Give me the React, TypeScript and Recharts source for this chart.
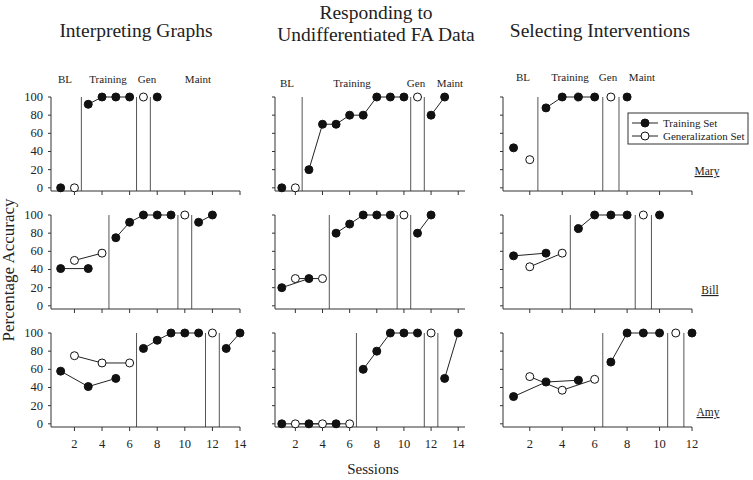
import React from 'react';
import { LineChart, Line, XAxis, YAxis, ReferenceLine } from 'recharts';

const FONT = '"Liberation Serif", "DejaVu Serif", "Times New Roman", serif';

// ---- Interpreting Graphs ----
const graphsMaryTraining = [0, null, 92, 100, 100, 100, null, 100];
const graphsMaryGeneral = [null, 0, null, null, null, null, 100, null];
const graphsMaryPhases = [2.5, 6.5, 7.5];
const graphsBillTraining = [41, null, 41, null, 75, 92, 100, 100, 100, null, 92, 100];
const graphsBillGeneral = [null, 50, null, 58, null, null, null, null, null, 100, null, null];
const graphsBillPhases = [4.5, 9.5, 10.5];
const graphsAmyTraining = [58, null, 41, null, 50, null, 83, 92, 100, 100, 100, null, 83, 100];
const graphsAmyGeneral = [null, 75, null, 67, null, 67, null, null, null, null, null, 100, null, null];
const graphsAmyPhases = [6.5, 11.5, 12.5];

// ---- Responding to Undifferentiated FA Data ----
const faMaryTraining = [0, null, 20, 70, 70, 80, 80, 100, 100, 100, null, 80, 100];
const faMaryGeneral = [null, 0, null, null, null, null, null, null, null, null, 100, null, null];
const faMaryPhases = [2.5, 10.5, 11.5];
const faBillTraining = [20, null, 30, null, 80, 90, 100, 100, 100, null, 80, 100];
const faBillGeneral = [null, 30, null, 30, null, null, null, null, null, 100, null, null];
const faBillPhases = [4.5, 9.5, 10.5];
const faAmyTraining = [0, null, 0, null, 0, null, 60, 80, 100, 100, 100, null, 50, 100];
const faAmyGeneral = [null, 0, null, 0, null, 0, null, null, null, null, null, 100, null, null];
const faAmyPhases = [6.5, 11.5, 12.5];

// ---- Selecting Interventions ----
const selMaryTraining = [44, null, 88, 100, 100, 100, null, 100];
const selMaryGeneral = [null, 31, null, null, null, null, 100, null];
const selMaryPhases = [2.5, 6.5, 7.5];
const selBillTraining = [55, null, 58, null, 85, 100, 100, 100, null, 100];
const selBillGeneral = [null, 43, null, 58, null, null, null, null, 100, null];
const selBillPhases = [4.5, 8.5, 9.5];
const selAmyTraining = [30, null, 46, null, 48, null, 68, 100, 100, 100, null, 100];
const selAmyGeneral = [null, 52, null, 37, null, 49, null, null, null, null, 100, null];
const selAmyPhases = [6.5, 10.5, 11.5];

const xTicks14 = [2, 4, 6, 8, 10, 12, 14];
const xTicks12 = [2, 4, 6, 8, 10, 12];
const yTicks = [0, 20, 40, 60, 80, 100];
const titles = ['Interpreting Graphs', 'Undifferentiated FA Data', 'Selecting Interventions'];
const phaseNames = ['BL', 'Training', 'Gen', 'Maint'];
const participants = ['Mary', 'Bill', 'Amy'];

type Pt = { x: number; y: number };

function segments(values: (number | null)[], phases: number[]): Pt[][] {
  const groups: Record<number, Pt[]> = {};
  values.forEach((v, i) => {
    if (v == null) return;
    const x = i + 1;
    const p = phases.filter((b) => b < x).length;
    (groups[p] = groups[p] || []).push({ x, y: v });
  });
  return Object.keys(groups)
    .sort((a, b) => Number(a) - Number(b))
    .map((k) => groups[Number(k)]);
}

const columns = [
  { L: 51, R: 240, domain: [0.3, 14], ticks: xTicks14 },
  { L: 275, R: 465, domain: [0.5, 14.5], ticks: xTicks14 },
  { L: 503, R: 692, domain: [0.35, 12], ticks: xTicks12 },
];
const rows = [{ T: 97 }, { T: 215 }, { T: 333 }];

const panels = [
  [
    { tr: graphsMaryTraining, ge: graphsMaryGeneral, ph: graphsMaryPhases },
    { tr: faMaryTraining, ge: faMaryGeneral, ph: faMaryPhases },
    { tr: selMaryTraining, ge: selMaryGeneral, ph: selMaryPhases },
  ],
  [
    { tr: graphsBillTraining, ge: graphsBillGeneral, ph: graphsBillPhases },
    { tr: faBillTraining, ge: faBillGeneral, ph: faBillPhases },
    { tr: selBillTraining, ge: selBillGeneral, ph: selBillPhases },
  ],
  [
    { tr: graphsAmyTraining, ge: graphsAmyGeneral, ph: graphsAmyPhases },
    { tr: faAmyTraining, ge: faAmyGeneral, ph: faAmyPhases },
    { tr: selAmyTraining, ge: selAmyGeneral, ph: selAmyPhases },
  ],
];

const YW = 50;
const MR = 10;
const MT = 10;
const PLOT_H = 94;
const XH = 30;
const INK = '#222';

function Panel({ r, c }: { r: number; c: number }) {
  const col = columns[c];
  const row = rows[r];
  const p = panels[r][c];
  const width = col.R - col.L + YW + MR;
  const height = MT + PLOT_H + XH;
  const showY = c === 0;
  const showX = r === 2;
  const trSegs = segments(p.tr, p.ph);
  const geSegs = segments(p.ge, p.ph);
  const yTick = (props: any) => {
    if (!showY) return <g />;
    const { x, y, payload } = props;
    return (
      <text x={x} y={y} dy={4} textAnchor="end" fontFamily={FONT} fontSize={12.5} fill={INK}>
        {payload.value}
      </text>
    );
  };
  const xTick = (props: any) => {
    if (!showX) return <g />;
    const { x, y, payload } = props;
    return (
      <text x={x} y={y} dy={9} textAnchor="middle" fontFamily={FONT} fontSize={12.5} fill={INK}>
        {payload.value}
      </text>
    );
  };
  return (
    <div style={{ position: 'absolute', left: col.L - YW, top: row.T - MT }}>
      <LineChart width={width} height={height} margin={{ top: MT, right: MR, left: 0, bottom: 0 }}>
        <XAxis
          type="number"
          dataKey="x"
          domain={col.domain}
          ticks={col.ticks}
          height={XH}
          tickSize={4}
          tickMargin={8}
          axisLine={{ stroke: '#333' }}
          tickLine={{ stroke: '#333' }}
          tick={xTick}
          interval={0}
        />
        <YAxis
          type="number"
          domain={[-3.5, 100]}
          ticks={yTicks}
          width={YW}
          tickSize={3}
          tickMargin={5}
          axisLine={{ stroke: '#333' }}
          tickLine={{ stroke: '#333' }}
          tick={yTick}
          interval={0}
        />
        {p.ph.map((b) => (
          <ReferenceLine key={'ph' + b} x={b} stroke="#555" strokeWidth={1} />
        ))}
        {trSegs.map((seg, i) => (
          <Line
            key={'tr' + i}
            data={seg}
            dataKey="y"
            type="linear"
            stroke={INK}
            strokeWidth={1}
            dot={{ r: 4, fill: '#111', stroke: '#111', strokeWidth: 1 }}
            isAnimationActive={false}
          />
        ))}
        {geSegs.map((seg, i) => (
          <Line
            key={'ge' + i}
            data={seg}
            dataKey="y"
            type="linear"
            stroke={INK}
            strokeWidth={1}
            dot={{ r: 4, fill: '#fff', stroke: '#111', strokeWidth: 1 }}
            isAnimationActive={false}
          />
        ))}
      </LineChart>
    </div>
  );
}

const phaseLabelPos = [
  { y: 83, xs: [65, 108, 147, 198] },
  { y: 87, xs: [287, 352, 416, 450] },
  { y: 81, xs: [523, 570, 608, 642] },
];
const namePos = [
  { x: 707, y: 175 },
  { x: 710, y: 294 },
  { x: 708, y: 416 },
];

function Title({ x, y, text }: { x: number; y: number; text: string }) {
  return (
    <text x={x} y={y} fontSize={19.5} textAnchor="middle">
      {text}
    </text>
  );
}

export default function App() {
  const cells = [];
  for (let r = 0; r < 3; r++) for (let c = 0; c < 3; c++) cells.push(<Panel key={r + '-' + c} r={r} c={c} />);
  return (
    <div style={{ position: 'absolute', left: 0, top: 0, width: 753, height: 480, background: '#fff', overflow: 'hidden' }}>
      {cells}
      <svg width={753} height={480} style={{ position: 'absolute', left: 0, top: 0, pointerEvents: 'none' }}>
        <g fontFamily={FONT} fill={INK}>
          <Title x={136} y={37} text={titles[0]} />
          <Title x={376} y={19} text="Responding to" />
          <Title x={376} y={41} text={titles[1]} />
          <Title x={600} y={37} text={titles[2]} />
          {phaseLabelPos.map((pl, ci) =>
            pl.xs.map((x, i) => (
              <text key={ci + '-' + i} x={x} y={pl.y} fontSize={11} textAnchor="middle">
                {phaseNames[i]}
              </text>
            ))
          )}
          <text x={373} y={474} fontSize={15} textAnchor="middle">Sessions</text>
          <text transform="translate(14,270) rotate(-90)" fontSize={17} textAnchor="middle">Percentage Accuracy</text>
          {namePos.map((np, i) => (
            <text key={'n' + i} x={np.x} y={np.y} fontSize={11.5} textAnchor="middle" textDecoration="underline">
              {participants[i]}
            </text>
          ))}
        </g>
        <g>
          <rect x={628} y={113} width={120} height={31} fill="#fff" stroke="#333" strokeWidth={1} />
          <line x1={632} x2={658} y1={123} y2={123} stroke={INK} strokeWidth={1} />
          <circle cx={645} cy={123} r={4} fill="#111" stroke="#111" />
          <line x1={632} x2={658} y1={136} y2={136} stroke={INK} strokeWidth={1} />
          <circle cx={645} cy={136} r={4} fill="#fff" stroke="#111" />
          <text x={663} y={127} fontSize={11} fontFamily={FONT} fill={INK}>Training Set</text>
          <text x={663} y={140} fontSize={11} fontFamily={FONT} fill={INK}>Generalization Set</text>
        </g>
      </svg>
    </div>
  );
}
